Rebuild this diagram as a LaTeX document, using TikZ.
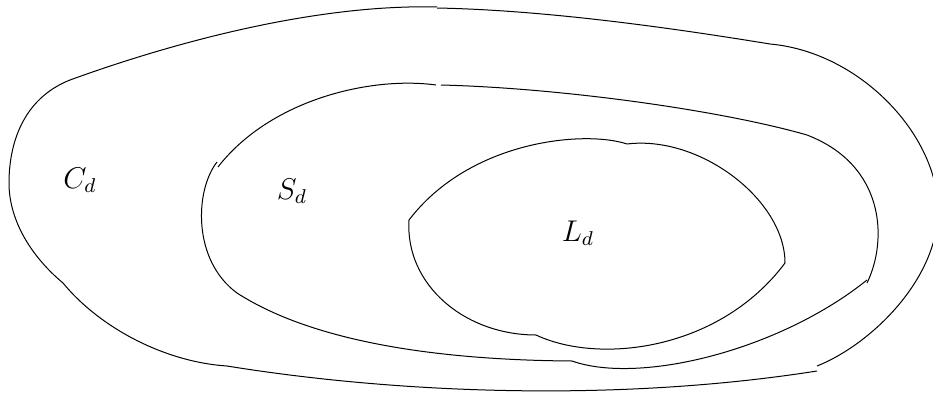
\documentclass[tikz,border=0pt]{standalone}
\begin{document}
\begin{tikzpicture}[x=0.4pt,y=-0.4pt,
  region/.style={draw=black,line width=0.4pt,line join=round},
  lbl/.style={inner sep=0pt,font=\large}]
\useasboundingbox (0,0) rectangle (933,393);
\clip (0,0) rectangle (933,393);
% ---- outer curve C_d ----
\draw[region] (437,7) .. controls (320,4) and (180,40) .. (70,80)
  .. controls (22,99) and (9,145) .. (9,183)
  .. controls (9,222) and (33,258) .. (63,283);
\draw[region] (63,283) .. controls (100,328) and (165,362) .. (227,366);
\draw[region] (227,366) .. controls (400,394) and (620,402) .. (817,371);
\draw[region] (817,366) .. controls (870,345) and (938,280) .. (938,210)
  .. controls (938,135) and (860,52) .. (770,44);
\draw[region] (770,44) .. controls (660,26) and (540,10) .. (437,8);
% ---- middle curve S_d ----
\draw[region] (436,85) .. controls (370,76) and (270,100) .. (218,167);
\draw[region] (217,162) .. controls (195,190) and (192,260) .. (237,293);
\draw[region] (237,293) .. controls (310,340) and (430,360) .. (572,361);
\draw[region] (572,361) .. controls (640,385) and (780,350) .. (867,280);
\draw[region] (867,283) .. controls (888,240) and (885,165) .. (807,135);
\draw[region] (807,135) .. controls (720,110) and (560,88) .. (441,85);
% ---- inner curve L_d ----
\draw[region] (627,144) .. controls (585,130) and (470,140) .. (409,220);
\draw[region] (409,220) .. controls (405,285) and (465,335) .. (536,335);
\draw[region] (536,335) .. controls (600,365) and (720,350) .. (785,263);
\draw[region] (785,263) .. controls (785,200) and (700,135) .. (627,144);
% ---- labels ----
\node[lbl] (cd) at (80,180) {$C_d$};
\node[lbl] (sd) at (292,191) {$S_d$};
\node[lbl] (ld) at (578,233) {$L_d$};
\end{tikzpicture}
\end{document}
